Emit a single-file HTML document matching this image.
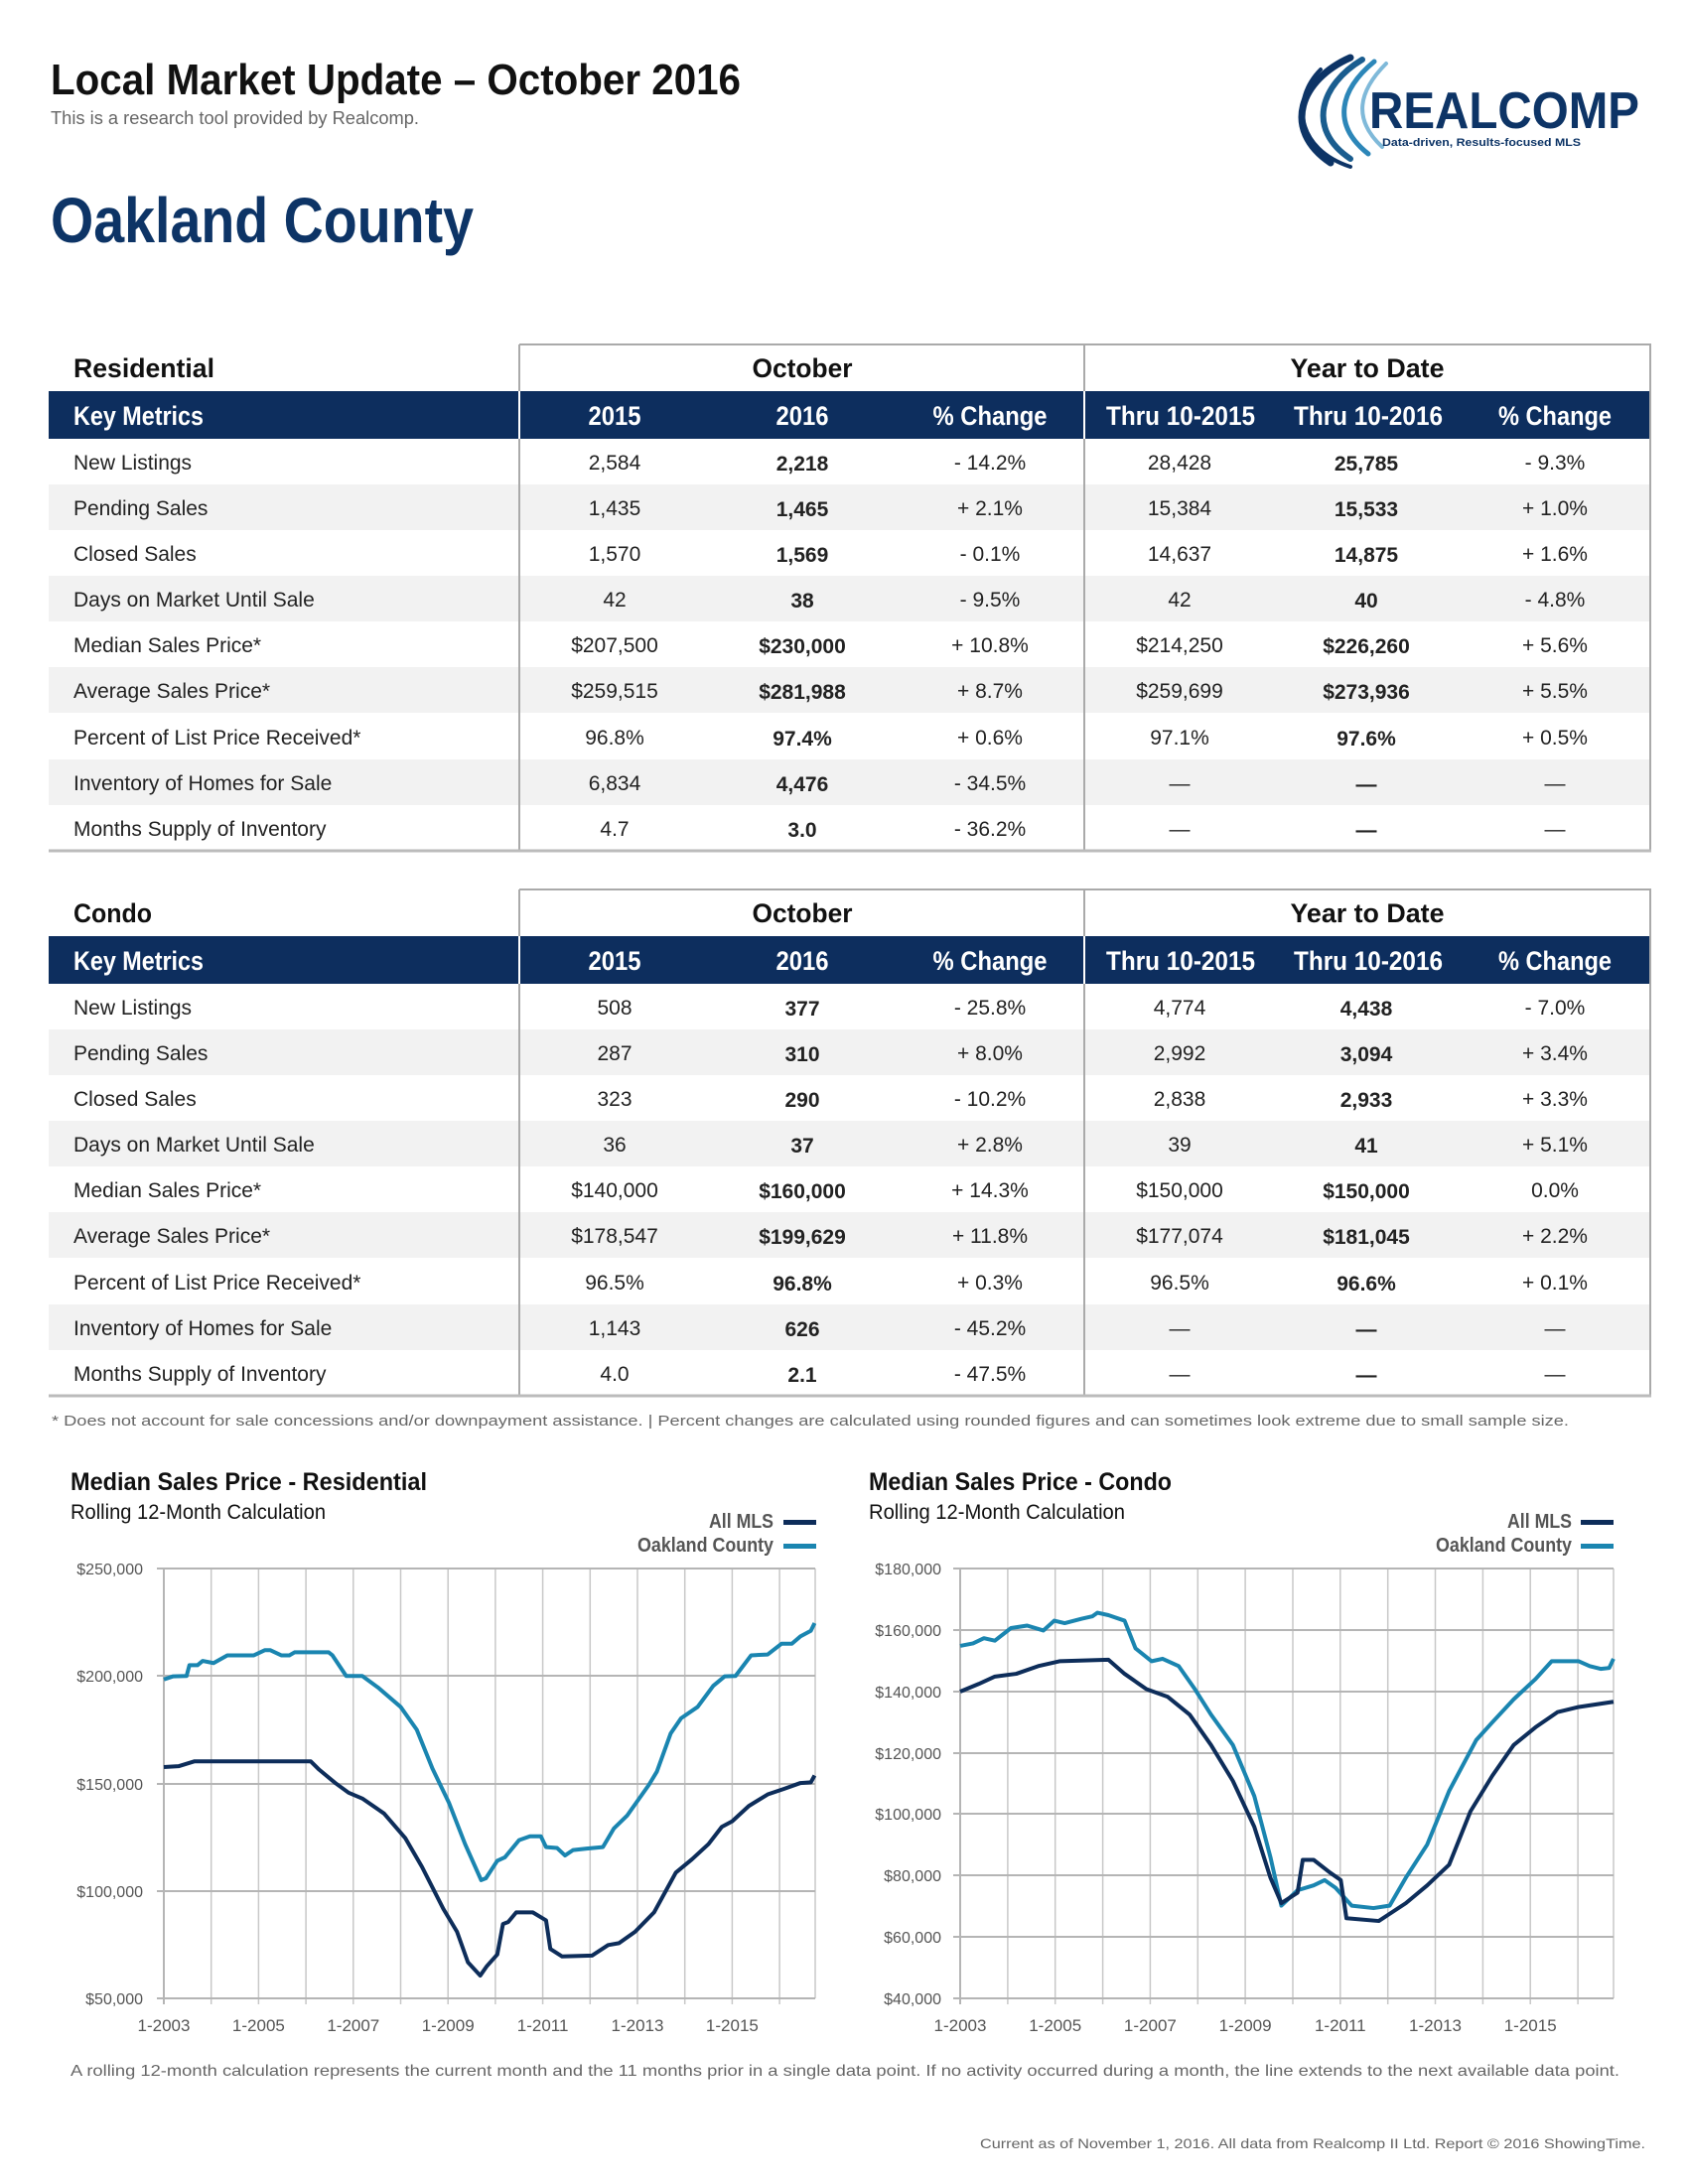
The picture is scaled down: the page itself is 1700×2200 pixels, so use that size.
<!DOCTYPE html>
<html><head><meta charset="utf-8"><style>
html,body{margin:0;padding:0;background:#fff}
svg{display:block}
text{font-family:"Liberation Sans",sans-serif}
.n{font-family:"Liberation Sans Narrow","Liberation Sans",sans-serif}
.c{font-size:21px;fill:#222;text-anchor:middle}
.b{font-weight:bold}
.l{font-size:21px;fill:#222}
.h{font-family:"Liberation Sans Narrow","Liberation Sans",sans-serif;font-weight:bold;font-size:27px;fill:#fff;text-anchor:middle}
.yl{font-size:16px;fill:#555;text-anchor:end}
.xl{font-size:17px;fill:#555;text-anchor:middle}
</style></head><body>
<svg width="1700" height="2200" viewBox="0 0 1700 2200" xmlns="http://www.w3.org/2000/svg">
<!-- Header -->
<text x="51" y="95" class="n b" font-size="44" fill="#111" textLength="695" lengthAdjust="spacingAndGlyphs">Local Market Update – October 2016</text>
<text x="51" y="125" font-size="18" fill="#666" textLength="371" lengthAdjust="spacingAndGlyphs">This is a research tool provided by Realcomp.</text>
<text x="51" y="244" class="n b" font-size="64" fill="#0d3466" textLength="426" lengthAdjust="spacingAndGlyphs">Oakland County</text>
<!-- Logo -->
<g fill="none" stroke-linecap="round">
<path d="M1360 58 C1310 80 1290 130 1340 164" stroke="#0d3466" stroke-width="7"/>
<path d="M1372 60 C1330 85 1315 130 1360 160" stroke="#1a5d8f" stroke-width="6"/>
<path d="M1384 62 C1350 90 1340 125 1378 155" stroke="#2c86b8" stroke-width="5"/>
<path d="M1396 64 C1368 92 1362 120 1392 148" stroke="#7fb9d9" stroke-width="4"/>
<path d="M1330 70 C1300 100 1305 150 1360 168" stroke="#0d3466" stroke-width="4"/>
</g>
<text x="1379" y="129" class="n b" font-size="52" fill="#0d3466" textLength="272" lengthAdjust="spacingAndGlyphs">REALCOMP</text>
<text x="1392" y="147" class="b" font-size="11" fill="#0d3466" textLength="200" lengthAdjust="spacingAndGlyphs">Data-driven, Results-focused MLS</text>

<!-- Residential -->
<g>
<rect x="49" y="488" width="1613" height="46" fill="#f2f2f2"/>
<rect x="49" y="580" width="1613" height="46" fill="#f2f2f2"/>
<rect x="49" y="672" width="1613" height="46" fill="#f2f2f2"/>
<rect x="49" y="765" width="1613" height="46" fill="#f2f2f2"/>
</g>
<g>
<rect x="49" y="394" width="1613" height="48" fill="#0d2e5e"/>
<line x1="523" y1="347" x2="523" y2="857" stroke="#aaa" stroke-width="2"/>
<line x1="1092" y1="347" x2="1092" y2="857" stroke="#aaa" stroke-width="2"/>
<line x1="523" y1="394" x2="523" y2="442" stroke="#fff" stroke-width="2"/>
<line x1="1092" y1="394" x2="1092" y2="442" stroke="#fff" stroke-width="2"/>
<polyline points="523,347 1662,347 1662,857" fill="none" stroke="#aaa" stroke-width="2"/>
<line x1="49" y1="857" x2="1663" y2="857" stroke="#bbb" stroke-width="3"/>
<text x="74" y="380" class="n b" font-size="27" fill="#111" textLength="142" lengthAdjust="spacingAndGlyphs">Residential</text>
<text x="808" y="380" class="n b" font-size="27" fill="#111" text-anchor="middle" textLength="101" lengthAdjust="spacingAndGlyphs">October</text>
<text x="1377" y="380" class="n b" font-size="27" fill="#111" text-anchor="middle" textLength="155" lengthAdjust="spacingAndGlyphs">Year to Date</text>
<text x="74" y="428" class="h" style="text-anchor:start" textLength="131" lengthAdjust="spacingAndGlyphs">Key Metrics</text>
<text x="619" y="428" class="h" textLength="53" lengthAdjust="spacingAndGlyphs">2015</text>
<text x="808" y="428" class="h" textLength="53" lengthAdjust="spacingAndGlyphs">2016</text>
<text x="997" y="428" class="h" textLength="115" lengthAdjust="spacingAndGlyphs">% Change</text>
<text x="1189" y="428" class="h" textLength="150" lengthAdjust="spacingAndGlyphs">Thru 10-2015</text>
<text x="1378" y="428" class="h" textLength="150" lengthAdjust="spacingAndGlyphs">Thru 10-2016</text>
<text x="1566" y="428" class="h" textLength="114" lengthAdjust="spacingAndGlyphs">% Change</text>
</g>
<g>
<text x="74" y="473" class="l">New Listings</text><text x="619" y="473" class="c">2,584</text><text x="808" y="474" class="c b">2,218</text><text x="997" y="473" class="c">- 14.2%</text><text x="1188" y="473" class="c">28,428</text><text x="1376" y="474" class="c b">25,785</text><text x="1566" y="473" class="c">- 9.3%</text>
<text x="74" y="519" class="l">Pending Sales</text><text x="619" y="519" class="c">1,435</text><text x="808" y="520" class="c b">1,465</text><text x="997" y="519" class="c">+ 2.1%</text><text x="1188" y="519" class="c">15,384</text><text x="1376" y="520" class="c b">15,533</text><text x="1566" y="519" class="c">+ 1.0%</text>
<text x="74" y="565" class="l">Closed Sales</text><text x="619" y="565" class="c">1,570</text><text x="808" y="566" class="c b">1,569</text><text x="997" y="565" class="c">- 0.1%</text><text x="1188" y="565" class="c">14,637</text><text x="1376" y="566" class="c b">14,875</text><text x="1566" y="565" class="c">+ 1.6%</text>
<text x="74" y="611" class="l">Days on Market Until Sale</text><text x="619" y="611" class="c">42</text><text x="808" y="612" class="c b">38</text><text x="997" y="611" class="c">- 9.5%</text><text x="1188" y="611" class="c">42</text><text x="1376" y="612" class="c b">40</text><text x="1566" y="611" class="c">- 4.8%</text>
<text x="74" y="657" class="l">Median Sales Price*</text><text x="619" y="657" class="c">$207,500</text><text x="808" y="658" class="c b">$230,000</text><text x="997" y="657" class="c">+ 10.8%</text><text x="1188" y="657" class="c">$214,250</text><text x="1376" y="658" class="c b">$226,260</text><text x="1566" y="657" class="c">+ 5.6%</text>
<text x="74" y="703" class="l">Average Sales Price*</text><text x="619" y="703" class="c">$259,515</text><text x="808" y="704" class="c b">$281,988</text><text x="997" y="703" class="c">+ 8.7%</text><text x="1188" y="703" class="c">$259,699</text><text x="1376" y="704" class="c b">$273,936</text><text x="1566" y="703" class="c">+ 5.5%</text>
<text x="74" y="750" class="l">Percent of List Price Received*</text><text x="619" y="750" class="c">96.8%</text><text x="808" y="751" class="c b">97.4%</text><text x="997" y="750" class="c">+ 0.6%</text><text x="1188" y="750" class="c">97.1%</text><text x="1376" y="751" class="c b">97.6%</text><text x="1566" y="750" class="c">+ 0.5%</text>
<text x="74" y="796" class="l">Inventory of Homes for Sale</text><text x="619" y="796" class="c">6,834</text><text x="808" y="797" class="c b">4,476</text><text x="997" y="796" class="c">- 34.5%</text><text x="1188" y="796" class="c">—</text><text x="1376" y="797" class="c b">—</text><text x="1566" y="796" class="c">—</text>
<text x="74" y="842" class="l">Months Supply of Inventory</text><text x="619" y="842" class="c">4.7</text><text x="808" y="843" class="c b">3.0</text><text x="997" y="842" class="c">- 36.2%</text><text x="1188" y="842" class="c">—</text><text x="1376" y="843" class="c b">—</text><text x="1566" y="842" class="c">—</text>
</g>

<!-- Condo table (offset 549) -->
<g transform="translate(0,549)">
<rect x="49" y="488" width="1613" height="46" fill="#f2f2f2"/>
<rect x="49" y="580" width="1613" height="46" fill="#f2f2f2"/>
<rect x="49" y="672" width="1613" height="46" fill="#f2f2f2"/>
<rect x="49" y="765" width="1613" height="46" fill="#f2f2f2"/>
<rect x="49" y="394" width="1613" height="48" fill="#0d2e5e"/>
<line x1="523" y1="347" x2="523" y2="857" stroke="#aaa" stroke-width="2"/>
<line x1="1092" y1="347" x2="1092" y2="857" stroke="#aaa" stroke-width="2"/>
<line x1="523" y1="394" x2="523" y2="442" stroke="#fff" stroke-width="2"/>
<line x1="1092" y1="394" x2="1092" y2="442" stroke="#fff" stroke-width="2"/>
<polyline points="523,347 1662,347 1662,857" fill="none" stroke="#aaa" stroke-width="2"/>
<line x1="49" y1="857" x2="1663" y2="857" stroke="#bbb" stroke-width="3"/>
<text x="74" y="380" class="n b" font-size="27" fill="#111" textLength="79" lengthAdjust="spacingAndGlyphs">Condo</text>
<text x="808" y="380" class="n b" font-size="27" fill="#111" text-anchor="middle" textLength="101" lengthAdjust="spacingAndGlyphs">October</text>
<text x="1377" y="380" class="n b" font-size="27" fill="#111" text-anchor="middle" textLength="155" lengthAdjust="spacingAndGlyphs">Year to Date</text>
<text x="74" y="428" class="h" style="text-anchor:start" textLength="131" lengthAdjust="spacingAndGlyphs">Key Metrics</text>
<text x="619" y="428" class="h" textLength="53" lengthAdjust="spacingAndGlyphs">2015</text>
<text x="808" y="428" class="h" textLength="53" lengthAdjust="spacingAndGlyphs">2016</text>
<text x="997" y="428" class="h" textLength="115" lengthAdjust="spacingAndGlyphs">% Change</text>
<text x="1189" y="428" class="h" textLength="150" lengthAdjust="spacingAndGlyphs">Thru 10-2015</text>
<text x="1378" y="428" class="h" textLength="150" lengthAdjust="spacingAndGlyphs">Thru 10-2016</text>
<text x="1566" y="428" class="h" textLength="114" lengthAdjust="spacingAndGlyphs">% Change</text>
<text x="74" y="473" class="l">New Listings</text><text x="619" y="473" class="c">508</text><text x="808" y="474" class="c b">377</text><text x="997" y="473" class="c">- 25.8%</text><text x="1188" y="473" class="c">4,774</text><text x="1376" y="474" class="c b">4,438</text><text x="1566" y="473" class="c">- 7.0%</text>
<text x="74" y="519" class="l">Pending Sales</text><text x="619" y="519" class="c">287</text><text x="808" y="520" class="c b">310</text><text x="997" y="519" class="c">+ 8.0%</text><text x="1188" y="519" class="c">2,992</text><text x="1376" y="520" class="c b">3,094</text><text x="1566" y="519" class="c">+ 3.4%</text>
<text x="74" y="565" class="l">Closed Sales</text><text x="619" y="565" class="c">323</text><text x="808" y="566" class="c b">290</text><text x="997" y="565" class="c">- 10.2%</text><text x="1188" y="565" class="c">2,838</text><text x="1376" y="566" class="c b">2,933</text><text x="1566" y="565" class="c">+ 3.3%</text>
<text x="74" y="611" class="l">Days on Market Until Sale</text><text x="619" y="611" class="c">36</text><text x="808" y="612" class="c b">37</text><text x="997" y="611" class="c">+ 2.8%</text><text x="1188" y="611" class="c">39</text><text x="1376" y="612" class="c b">41</text><text x="1566" y="611" class="c">+ 5.1%</text>
<text x="74" y="657" class="l">Median Sales Price*</text><text x="619" y="657" class="c">$140,000</text><text x="808" y="658" class="c b">$160,000</text><text x="997" y="657" class="c">+ 14.3%</text><text x="1188" y="657" class="c">$150,000</text><text x="1376" y="658" class="c b">$150,000</text><text x="1566" y="657" class="c">0.0%</text>
<text x="74" y="703" class="l">Average Sales Price*</text><text x="619" y="703" class="c">$178,547</text><text x="808" y="704" class="c b">$199,629</text><text x="997" y="703" class="c">+ 11.8%</text><text x="1188" y="703" class="c">$177,074</text><text x="1376" y="704" class="c b">$181,045</text><text x="1566" y="703" class="c">+ 2.2%</text>
<text x="74" y="750" class="l">Percent of List Price Received*</text><text x="619" y="750" class="c">96.5%</text><text x="808" y="751" class="c b">96.8%</text><text x="997" y="750" class="c">+ 0.3%</text><text x="1188" y="750" class="c">96.5%</text><text x="1376" y="751" class="c b">96.6%</text><text x="1566" y="750" class="c">+ 0.1%</text>
<text x="74" y="796" class="l">Inventory of Homes for Sale</text><text x="619" y="796" class="c">1,143</text><text x="808" y="797" class="c b">626</text><text x="997" y="796" class="c">- 45.2%</text><text x="1188" y="796" class="c">—</text><text x="1376" y="797" class="c b">—</text><text x="1566" y="796" class="c">—</text>
<text x="74" y="842" class="l">Months Supply of Inventory</text><text x="619" y="842" class="c">4.0</text><text x="808" y="843" class="c b">2.1</text><text x="997" y="842" class="c">- 47.5%</text><text x="1188" y="842" class="c">—</text><text x="1376" y="843" class="c b">—</text><text x="1566" y="842" class="c">—</text>
</g>

<text x="52" y="1436" font-size="15" fill="#666" textLength="1528" lengthAdjust="spacingAndGlyphs">* Does not account for sale concessions and/or downpayment assistance. | Percent changes are calculated using rounded figures and can sometimes look extreme due to small sample size.</text>

<!-- LEFT CHART -->
<text x="71" y="1501" class="n b" font-size="25" fill="#111" textLength="359" lengthAdjust="spacingAndGlyphs">Median Sales Price - Residential</text>
<text x="71" y="1530" class="n" font-size="21" fill="#111" textLength="257" lengthAdjust="spacingAndGlyphs">Rolling 12-Month Calculation</text>
<text x="779" y="1539" class="n b" font-size="20" fill="#555" text-anchor="end" textLength="65" lengthAdjust="spacingAndGlyphs">All MLS</text>
<text x="779" y="1563" class="n b" font-size="20" fill="#555" text-anchor="end" textLength="137" lengthAdjust="spacingAndGlyphs">Oakland County</text>
<rect x="789" y="1531" width="33" height="5" fill="#0d2d5a"/>
<rect x="789" y="1555" width="33" height="5" fill="#1a85b0"/>
<g stroke="#c8c8c8" stroke-width="1.5">
<line x1="212.7" y1="1580" x2="212.7" y2="2019"/><line x1="260.4" y1="1580" x2="260.4" y2="2019"/><line x1="308.1" y1="1580" x2="308.1" y2="2019"/><line x1="355.8" y1="1580" x2="355.8" y2="2019"/><line x1="403.5" y1="1580" x2="403.5" y2="2019"/><line x1="451.2" y1="1580" x2="451.2" y2="2019"/><line x1="498.9" y1="1580" x2="498.9" y2="2019"/><line x1="546.6" y1="1580" x2="546.6" y2="2019"/><line x1="594.3" y1="1580" x2="594.3" y2="2019"/><line x1="642" y1="1580" x2="642" y2="2019"/><line x1="689.7" y1="1580" x2="689.7" y2="2019"/><line x1="737.4" y1="1580" x2="737.4" y2="2019"/><line x1="785.1" y1="1580" x2="785.1" y2="2019"/><line x1="821" y1="1580" x2="821" y2="2013"/>
</g>
<g stroke="#b5b5b5" stroke-width="2">
<line x1="158" y1="1580" x2="821" y2="1580"/><line x1="158" y1="1688" x2="821" y2="1688"/><line x1="158" y1="1797" x2="821" y2="1797"/><line x1="158" y1="1905" x2="821" y2="1905"/><line x1="158" y1="2013" x2="821" y2="2013"/>
<line x1="165" y1="1580" x2="165" y2="2019"/>
</g>
<text x="144" y="1586" class="yl">$250,000</text><text x="144" y="1694" class="yl">$200,000</text><text x="144" y="1803" class="yl">$150,000</text><text x="144" y="1911" class="yl">$100,000</text><text x="144" y="2019" class="yl">$50,000</text>
<text x="165" y="2046" class="xl">1-2003</text><text x="260.4" y="2046" class="xl">1-2005</text><text x="355.8" y="2046" class="xl">1-2007</text><text x="451.2" y="2046" class="xl">1-2009</text><text x="546.6" y="2046" class="xl">1-2011</text><text x="642" y="2046" class="xl">1-2013</text><text x="737.4" y="2046" class="xl">1-2015</text>
<g transform="translate(165 2013) scale(47.7 -2.165) translate(0 -50)" fill="none" stroke-linejoin="round">
<polyline vector-effect="non-scaling-stroke" stroke="#1a85b0" stroke-width="4" points="0,198.4 0.19,199.8 0.48,200 0.54,205 0.71,205 0.82,207 1.05,206 1.34,209.6 1.9,209.6 2.13,212 2.25,212 2.48,209.6 2.65,209.6 2.76,211 3.48,211 3.56,209.6 3.85,200 4.19,200 4.53,194.5 5.0,185.6 5.34,175 5.67,157 6.02,141 6.36,121.8 6.7,105 6.8,105.9 7.04,114 7.2,115.6 7.5,123.6 7.73,125.4 7.96,125.4 8.07,120.4 8.3,120 8.47,116.5 8.64,119 8.93,119.7 9.27,120.4 9.5,129 9.78,135 10.24,149.3 10.41,155.5 10.7,173.2 10.92,180.3 11.27,185.6 11.6,195.4 11.84,199.8 12.07,200 12.4,209.6 12.75,210 13.04,215 13.26,215 13.44,218.4 13.66,221 13.74,224.6"/>
<polyline vector-effect="non-scaling-stroke" stroke="#0d2d5a" stroke-width="4" points="0,157.6 0.31,158 0.65,160.3 3.1,160.3 3.28,156.4 3.62,150.2 3.9,145.7 4.19,143 4.65,136 5.1,124.5 5.45,111.2 5.9,91.7 6.19,81 6.42,66.8 6.68,60.6 6.82,65 7.04,70.4 7.16,84.6 7.27,85.5 7.44,90 7.79,90 8.07,86.3 8.16,73 8.41,69.5 9.04,69.9 9.38,74.8 9.61,75.7 9.95,81 10.35,90 10.81,108.5 11.15,114.7 11.5,121.8 11.78,129.8 12.0,132.4 12.35,139.5 12.75,144.9 13.1,147.5 13.44,150.2 13.66,150.5 13.74,153.7"/>
</g>

<!-- RIGHT CHART -->
<text x="875" y="1501" class="n b" font-size="25" fill="#111" textLength="305" lengthAdjust="spacingAndGlyphs">Median Sales Price - Condo</text>
<text x="875" y="1530" class="n" font-size="21" fill="#111" textLength="258" lengthAdjust="spacingAndGlyphs">Rolling 12-Month Calculation</text>
<text x="1583" y="1539" class="n b" font-size="20" fill="#555" text-anchor="end" textLength="65" lengthAdjust="spacingAndGlyphs">All MLS</text>
<text x="1583" y="1563" class="n b" font-size="20" fill="#555" text-anchor="end" textLength="137" lengthAdjust="spacingAndGlyphs">Oakland County</text>
<rect x="1592" y="1531" width="33" height="5" fill="#0d2d5a"/>
<rect x="1592" y="1555" width="33" height="5" fill="#1a85b0"/>
<g stroke="#c8c8c8" stroke-width="1.5">
<line x1="1014.9" y1="1580" x2="1014.9" y2="2019"/><line x1="1062.7" y1="1580" x2="1062.7" y2="2019"/><line x1="1110.6" y1="1580" x2="1110.6" y2="2019"/><line x1="1158.4" y1="1580" x2="1158.4" y2="2019"/><line x1="1206.3" y1="1580" x2="1206.3" y2="2019"/><line x1="1254.1" y1="1580" x2="1254.1" y2="2019"/><line x1="1302" y1="1580" x2="1302" y2="2019"/><line x1="1349.8" y1="1580" x2="1349.8" y2="2019"/><line x1="1397.7" y1="1580" x2="1397.7" y2="2019"/><line x1="1445.5" y1="1580" x2="1445.5" y2="2019"/><line x1="1493.4" y1="1580" x2="1493.4" y2="2019"/><line x1="1541.2" y1="1580" x2="1541.2" y2="2019"/><line x1="1589.1" y1="1580" x2="1589.1" y2="2019"/><line x1="1625" y1="1580" x2="1625" y2="2013"/>
</g>
<g stroke="#b5b5b5" stroke-width="2">
<line x1="960" y1="1580" x2="1625" y2="1580"/><line x1="960" y1="1642" x2="1625" y2="1642"/><line x1="960" y1="1704" x2="1625" y2="1704"/><line x1="960" y1="1766" x2="1625" y2="1766"/><line x1="960" y1="1827" x2="1625" y2="1827"/><line x1="960" y1="1889" x2="1625" y2="1889"/><line x1="960" y1="1951" x2="1625" y2="1951"/><line x1="960" y1="2013" x2="1625" y2="2013"/>
<line x1="967" y1="1580" x2="967" y2="2019"/>
</g>
<text x="948" y="1586" class="yl">$180,000</text><text x="948" y="1648" class="yl">$160,000</text><text x="948" y="1710" class="yl">$140,000</text><text x="948" y="1772" class="yl">$120,000</text><text x="948" y="1833" class="yl">$100,000</text><text x="948" y="1895" class="yl">$80,000</text><text x="948" y="1957" class="yl">$60,000</text><text x="948" y="2019" class="yl">$40,000</text>
<text x="967" y="2046" class="xl">1-2003</text><text x="1062.7" y="2046" class="xl">1-2005</text><text x="1158.4" y="2046" class="xl">1-2007</text><text x="1254.1" y="2046" class="xl">1-2009</text><text x="1349.8" y="2046" class="xl">1-2011</text><text x="1445.5" y="2046" class="xl">1-2013</text><text x="1541.2" y="2046" class="xl">1-2015</text>
<g transform="translate(967 2013) scale(47.85 -3.093) translate(0 -40)" fill="none" stroke-linejoin="round">
<polyline vector-effect="non-scaling-stroke" stroke="#1a85b0" stroke-width="4" points="0,154.8 0.27,155.6 0.5,157.3 0.73,156.5 1.07,160.6 1.41,161.4 1.75,159.8 1.98,163 2.2,162.2 2.55,163.6 2.78,164.4 2.89,165.6 3.12,164.8 3.46,163 3.69,154 4.03,149.8 4.26,150.6 4.6,148.2 4.94,140.7 5.28,132.4 5.74,122.5 6.19,105.9 6.53,86 6.76,70.2 7.1,75.2 7.44,76.8 7.67,78.5 7.9,76 8.24,70.2 8.7,69.4 9.04,70.2 9.38,79.3 9.83,90.1 10.29,107.5 10.86,124.1 11.2,129.9 11.65,137.4 12.11,144 12.45,149.8 13.02,149.8 13.25,148.2 13.48,147.3 13.66,147.6 13.75,150.6"/>
<polyline vector-effect="non-scaling-stroke" stroke="#0d2d5a" stroke-width="4" points="0,139.9 0.39,142.4 0.73,144.8 1.18,145.7 1.64,148.2 2.09,149.8 3.12,150.3 3.46,145.7 3.92,140.7 4.37,138.2 4.83,132.4 5.28,122.5 5.74,110.8 6.19,95.9 6.53,79.3 6.76,71 7.1,74.4 7.21,85.1 7.44,85.1 7.78,81 8.01,78.5 8.13,66.1 8.81,65.2 9.38,71 9.83,76.8 10.29,83.5 10.74,100.9 11.2,112.5 11.65,122.5 12.11,128.3 12.57,133.2 13.02,134.9 13.75,136.6"/>
</g>

<text x="71" y="2091" font-size="16" fill="#666" textLength="1560" lengthAdjust="spacingAndGlyphs">A rolling 12-month calculation represents the current month and the 11 months prior in a single data point. If no activity occurred during a month, the line extends to the next available data point.</text>
<text x="1657" y="2164" font-size="14" fill="#666" text-anchor="end" textLength="670" lengthAdjust="spacingAndGlyphs">Current as of November 1, 2016. All data from Realcomp II Ltd. Report © 2016 ShowingTime.</text>
</svg>
</body></html>
